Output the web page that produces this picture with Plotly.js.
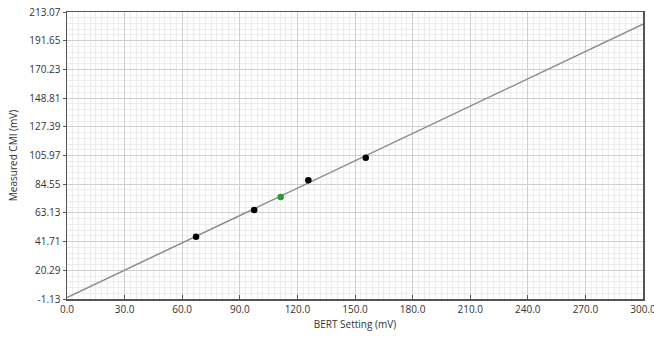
<!DOCTYPE html>
<html>
<head>
<meta charset="utf-8">
<script src="https://cdn.plot.ly/plotly-3.0.1.min.js"></script>
<style>html,body{margin:0;padding:0;background:#fff;overflow:hidden;}#chart{width:654px;height:341px;}</style>
</head>
<body>
<div id="chart"></div>
<script>
// Fit line endpoints (BERT setting mV -> measured CMI mV)
const fitX = [0, 300];
const fitY = [0, 204];
// Measured points (black)
const blackX = [67.2, 97.5, 125.7, 155.6];
const blackY = [45.4, 65.3, 87.5, 104.3];
// Highlighted point (green)
const greenX = [111.3];
const greenY = [75.0];
// Axis ticks
const yTickVals = [-1.13, 20.29, 41.71, 63.13, 84.55, 105.97, 127.39, 148.81, 170.23, 191.65, 213.07];
const yTickText = ["-1.13", "20.29", "41.71", "63.13", "84.55", "105.97", "127.39", "148.81", "170.23", "191.65", "213.07"];
const xTickVals = [0, 30, 60, 90, 120, 150, 180, 210, 240, 270, 300];
const xTickText = ["0.0", "30.0", "60.0", "90.0", "120.0", "150.0", "180.0", "210.0", "240.0", "270.0", "300.0"];

const traces = [
  {x: fitX, y: fitY, mode: 'lines', line: {color: '#8c8c8c', width: 1.5}, hoverinfo: 'skip'},
  {x: blackX, y: blackY, mode: 'markers', marker: {color: '#000', size: 6.5}},
  {x: greenX, y: greenY, mode: 'markers', marker: {color: '#2e9a2e', size: 6.5}}
];

const font = {family: '"Open Sans", "DejaVu Sans", sans-serif', size: 10, color: '#333'};

const layout = {
  width: 654, height: 341,
  margin: {l: 67, r: 11, t: 12, b: 42, pad: 0},
  paper_bgcolor: '#fff', plot_bgcolor: '#fff',
  showlegend: false,
  font: font,
  xaxis: {
    range: [0, 300], tickvals: xTickVals, ticktext: xTickText,
    ticklabeloverflow: 'allow',
    showline: true, linecolor: '#555', linewidth: 1.5, mirror: true,
    ticks: 'inside', ticklen: 4, tickcolor: '#555',
    showgrid: true, gridcolor: '#cfcfcf', gridwidth: 1,
    minor: {dtick: 3, tick0: 0, showgrid: true, gridcolor: '#ececec', gridwidth: 1},
    zeroline: false,
    title: {text: 'BERT Setting (mV)', font: {family: font.family, size: 10, color: '#333'}, standoff: 6},
    tickfont: font
  },
  yaxis: {
    range: [-1.13, 213.07], tickvals: yTickVals, ticktext: yTickText,
    showline: true, linecolor: '#555', linewidth: 1.5, mirror: true,
    ticks: 'outside', ticklen: 3, tickcolor: '#555',
    showgrid: true, gridcolor: '#cfcfcf', gridwidth: 1,
    minor: {dtick: 4.284, tick0: -1.13, showgrid: true, gridcolor: '#ececec', gridwidth: 1},
    zeroline: false,
    title: {text: 'Measured CMI (mV)', font: {family: font.family, size: 10, color: '#333'}, standoff: 10},
    tickfont: font
  }
};

Plotly.newPlot('chart', traces, layout, {displayModeBar: false, staticPlot: true});
</script>
</body>
</html>
